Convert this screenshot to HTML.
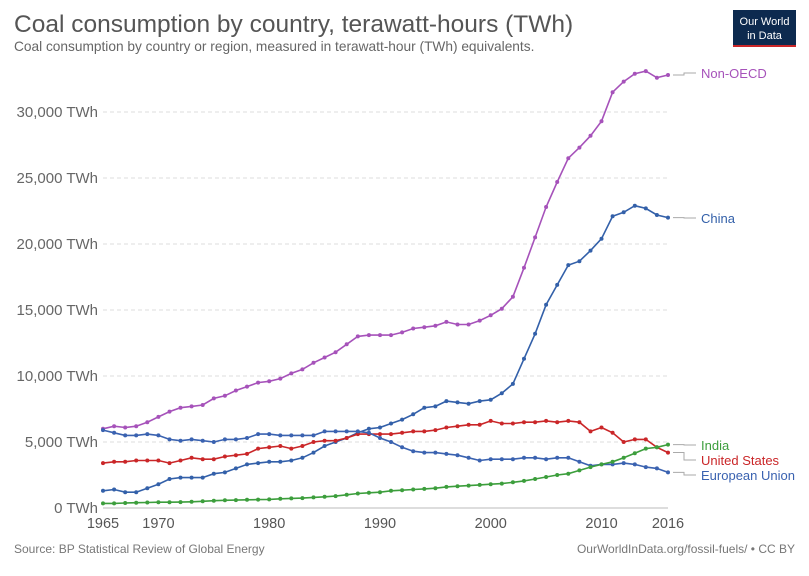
<!DOCTYPE html>
<html><head><meta charset="utf-8"><style>
body{margin:0;background:#fff;font-family:"Liberation Sans",sans-serif;}
svg text{font-family:"Liberation Sans",sans-serif;}
</style></head><body>
<svg id="s" width="809" height="571" viewBox="0 0 809 571" xmlns="http://www.w3.org/2000/svg">
<text x="14" y="32" font-size="24.5" fill="#555">Coal consumption by country, terawatt-hours (TWh)</text>
<text x="14" y="51" font-size="13.7" fill="#666">Coal consumption by country or region, measured in terawatt-hour (TWh) equivalents.</text>
<rect x="733" y="10" width="63" height="37" fill="#0d2a4f"/>
<rect x="733" y="45" width="63" height="2" fill="#ca2628"/>
<text x="764.5" y="25" font-size="11" fill="#fff" text-anchor="middle">Our World</text>
<text x="764.5" y="39" font-size="11" fill="#fff" text-anchor="middle">in Data</text>
<text x="14" y="553" font-size="12" fill="#777">Source: BP Statistical Review of Global Energy</text>
<text x="795" y="553" font-size="12" fill="#777" text-anchor="end">OurWorldInData.org/fossil-fuels/ • CC BY</text>
<g id="g"></g>
</svg>
<script>
var g=document.getElementById('g'),h='';
function X(y){return 103+(y-1965)*(565/51);}
function Y(v){return 508-v*(396/30000);}
for(var v=0;v<=30000;v+=5000){var y=Y(v);
 if(v>0)h+='<line x1="103" x2="668" y1="'+y+'" y2="'+y+'" stroke="#ddd" stroke-dasharray="4,3"/>';
 h+='<text x="98" y="'+(y+5)+'" font-size="15" fill="#666" text-anchor="end">'+(v?v.toLocaleString('en-US'):0)+' TWh</text>';}
h+='<line x1="103" x2="668" y1="508" y2="508" stroke="#bbb"/>';
[1965,1970,1980,1990,2000,2010,2016].forEach(function(yr){h+='<text x="'+X(yr)+'" y="528" font-size="14.5" fill="#555" text-anchor="middle">'+yr+'</text>';});
var S=[
["Non-OECD","#a652ba",73,[6000,6200,6100,6200,6500,6900,7300,7600,7700,7800,8300,8500,8900,9200,9500,9600,9800,10200,10500,11000,11400,11800,12400,13000,13100,13100,13100,13300,13600,13700,13800,14100,13900,13900,14200,14600,15100,16000,18200,20500,22800,24700,26500,27300,28200,29300,31500,32300,32900,33100,32600,32800]],
["China","#3360a9",218,[1300,1400,1200,1200,1500,1800,2200,2300,2300,2300,2600,2700,3000,3300,3400,3500,3500,3600,3800,4200,4700,5000,5300,5700,6000,6100,6400,6700,7100,7600,7700,8100,8000,7900,8100,8200,8700,9400,11300,13200,15400,16900,18400,18700,19500,20400,22100,22400,22900,22700,22200,22000]],
["United States","#ca2628",460,[3400,3500,3500,3600,3600,3600,3400,3600,3800,3700,3700,3900,4000,4100,4500,4600,4700,4500,4700,5000,5100,5100,5300,5600,5600,5600,5600,5700,5800,5800,5900,6100,6200,6300,6300,6600,6400,6400,6500,6500,6600,6500,6600,6500,5800,6100,5700,5000,5200,5200,4600,4200]],
["European Union","#3a62b0",475,[5900,5700,5500,5500,5600,5500,5200,5100,5200,5100,5000,5200,5200,5300,5600,5600,5500,5500,5500,5500,5800,5800,5800,5800,5700,5300,5000,4600,4300,4200,4200,4100,4000,3800,3600,3700,3700,3700,3800,3800,3700,3800,3800,3500,3200,3300,3300,3400,3300,3100,3000,2700]],
["India","#3c9e3c",445,[350,350,380,400,420,440,440,450,470,510,550,580,600,620,640,650,700,730,750,800,850,900,1000,1100,1150,1200,1300,1350,1400,1450,1500,1600,1650,1700,1750,1800,1850,1950,2050,2200,2350,2500,2600,2850,3100,3300,3500,3800,4150,4500,4600,4800]]];
S.forEach(function(s){var p=s[3].map(function(v,i){return X(1965+i).toFixed(1)+','+Y(v).toFixed(1);});
 h+='<polyline fill="none" stroke="'+s[1]+'" stroke-width="1.6" points="'+p.join(' ')+'"/>';
 p.forEach(function(q){var c=q.split(',');h+='<circle cx="'+c[0]+'" cy="'+c[1]+'" r="2" fill="'+s[1]+'"/>';});
 var ey=Y(s[3][51]);
 h+='<polyline fill="none" stroke="#aaa" points="673,'+ey+' 684,'+ey+' 684,'+s[2]+' 696,'+s[2]+'"/>';
 h+='<text x="701" y="'+(s[2]+5)+'" font-size="13" fill="'+s[1]+'">'+s[0]+'</text>';});
g.innerHTML=h;
</script>
</body></html>
